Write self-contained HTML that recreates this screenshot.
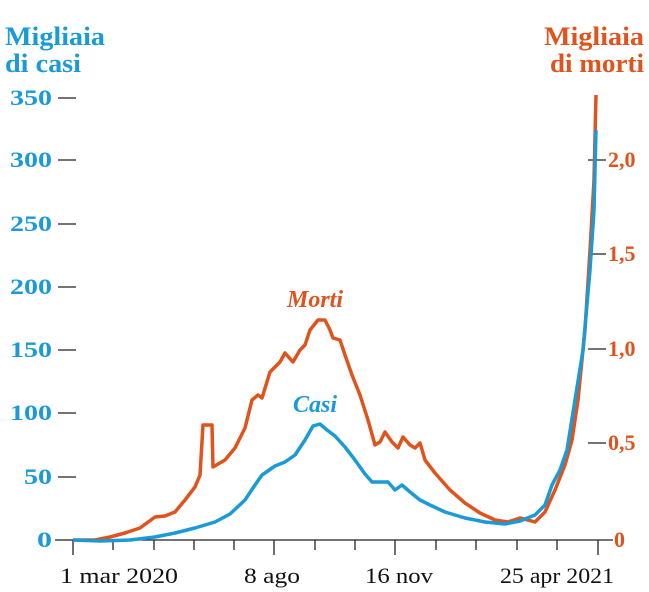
<!DOCTYPE html><html><head><style>body{margin:0;background:#fff}svg{display:block;font-family:"Liberation Serif",serif}</style></head><body>
<svg width="649" height="592" viewBox="0 0 649 592">
<g font-weight="bold" font-size="26">
<text x="5" y="45" fill="#1a9ad6" textLength="100" lengthAdjust="spacingAndGlyphs">Migliaia</text><text x="5" y="72" fill="#1a9ad6" textLength="76" lengthAdjust="spacingAndGlyphs">di casi</text>
<text x="544" y="45" fill="#e0531c" textLength="100" lengthAdjust="spacingAndGlyphs">Migliaia</text><text x="550" y="72" fill="#e0531c" textLength="94" lengthAdjust="spacingAndGlyphs">di morti</text>
</g>
<g font-size="22" font-weight="bold" fill="#1a9ad6">
<text x="10" y="105" textLength="42" lengthAdjust="spacingAndGlyphs">350</text><text x="10" y="167" textLength="42" lengthAdjust="spacingAndGlyphs">300</text><text x="10" y="231" textLength="42" lengthAdjust="spacingAndGlyphs">250</text><text x="10" y="294" textLength="42" lengthAdjust="spacingAndGlyphs">200</text><text x="10" y="357" textLength="42" lengthAdjust="spacingAndGlyphs">150</text><text x="10" y="420" textLength="42" lengthAdjust="spacingAndGlyphs">100</text><text x="24" y="484" textLength="28" lengthAdjust="spacingAndGlyphs">50</text><text x="37" y="547" textLength="15" lengthAdjust="spacingAndGlyphs">0</text>
</g>
<g stroke="#222" stroke-width="1.3">
<line x1="58" x2="76" y1="98" y2="98"/><line x1="58" x2="76" y1="160" y2="160"/><line x1="58" x2="76" y1="224" y2="224"/><line x1="58" x2="76" y1="287" y2="287"/><line x1="58" x2="76" y1="350" y2="350"/><line x1="58" x2="76" y1="413" y2="413"/><line x1="58" x2="76" y1="477" y2="477"/>
<line x1="588" x2="606" y1="160" y2="160"/><line x1="588" x2="606" y1="254" y2="254"/><line x1="588" x2="606" y1="349" y2="349"/><line x1="588" x2="606" y1="443" y2="443"/>
<line x1="55" x2="613" y1="540" y2="540"/>
<line x1="73" x2="73" y1="540" y2="555"/><line x1="113" x2="113" y1="540" y2="550"/><line x1="154" x2="154" y1="540" y2="550"/><line x1="194" x2="194" y1="540" y2="550"/><line x1="234" x2="234" y1="540" y2="550"/><line x1="274" x2="274" y1="540" y2="555"/><line x1="315" x2="315" y1="540" y2="550"/><line x1="355" x2="355" y1="540" y2="550"/><line x1="395" x2="395" y1="540" y2="555"/><line x1="436" x2="436" y1="540" y2="550"/><line x1="476" x2="476" y1="540" y2="550"/><line x1="517" x2="517" y1="540" y2="550"/><line x1="557" x2="557" y1="540" y2="550"/><line x1="598" x2="598" y1="540" y2="555"/>
</g>
<g font-size="22" font-weight="bold" fill="#e0531c">
<text x="608" y="167">2,0</text><text x="608" y="261">1,5</text><text x="608" y="356">1,0</text><text x="608" y="450">0,5</text><text x="614" y="547">0</text>
</g>
<g font-size="22" fill="#111">
<text x="60" y="583" textLength="118" lengthAdjust="spacingAndGlyphs">1 mar 2020</text><text x="244" y="583" textLength="56" lengthAdjust="spacingAndGlyphs">8 ago</text><text x="365" y="583" textLength="68" lengthAdjust="spacingAndGlyphs">16 nov</text><text x="500" y="583" textLength="114" lengthAdjust="spacingAndGlyphs">25 apr 2021</text>
</g>
<polyline fill="none" stroke="#e0531c" stroke-width="3.5" stroke-linejoin="round" points="73,540 95,540 110,537 125,533 140,528 155,517 165,516 175,512 185,500 195,487 200,475 203,425 212,425 213,467 225,460 235,448 245,428 252,400 258,395 262,398 270,372 280,362 285,353 293,362 300,350 305,345 310,330 318,320 325,320 330,330 333,338 340,340 345,355 352,375 360,395 368,420 375,445 380,442 385,432 392,442 398,448 403,437 410,445 415,448 420,443 425,460 435,473 450,490 465,503 480,513 495,520 508,522 520,518 528,520 535,522 545,512 555,490 565,465 572,440 578,400 585,330 590,250 594,180 596,95"/>
<polyline fill="none" stroke="#1a9ad6" stroke-width="3.5" stroke-linejoin="round" points="73,540 100,541 130,540 155,537 175,533 195,528 215,522 230,514 245,500 255,485 262,475 275,466 285,462 295,455 305,440 313,426 320,424 327,430 335,436 345,447 355,460 365,474 372,482 380,482 388,482 395,490 402,485 410,492 420,500 430,505 445,512 465,518 485,522 505,524 520,521 535,515 545,505 552,485 560,470 567,450 575,400 583,350 590,270 594,210 596,130"/>
<text x="287" y="307" font-size="24" font-weight="bold" font-style="italic" fill="#e0531c">Morti</text>
<text x="293" y="412" font-size="24" font-weight="bold" font-style="italic" fill="#1a9ad6">Casi</text>
</svg></body></html>
